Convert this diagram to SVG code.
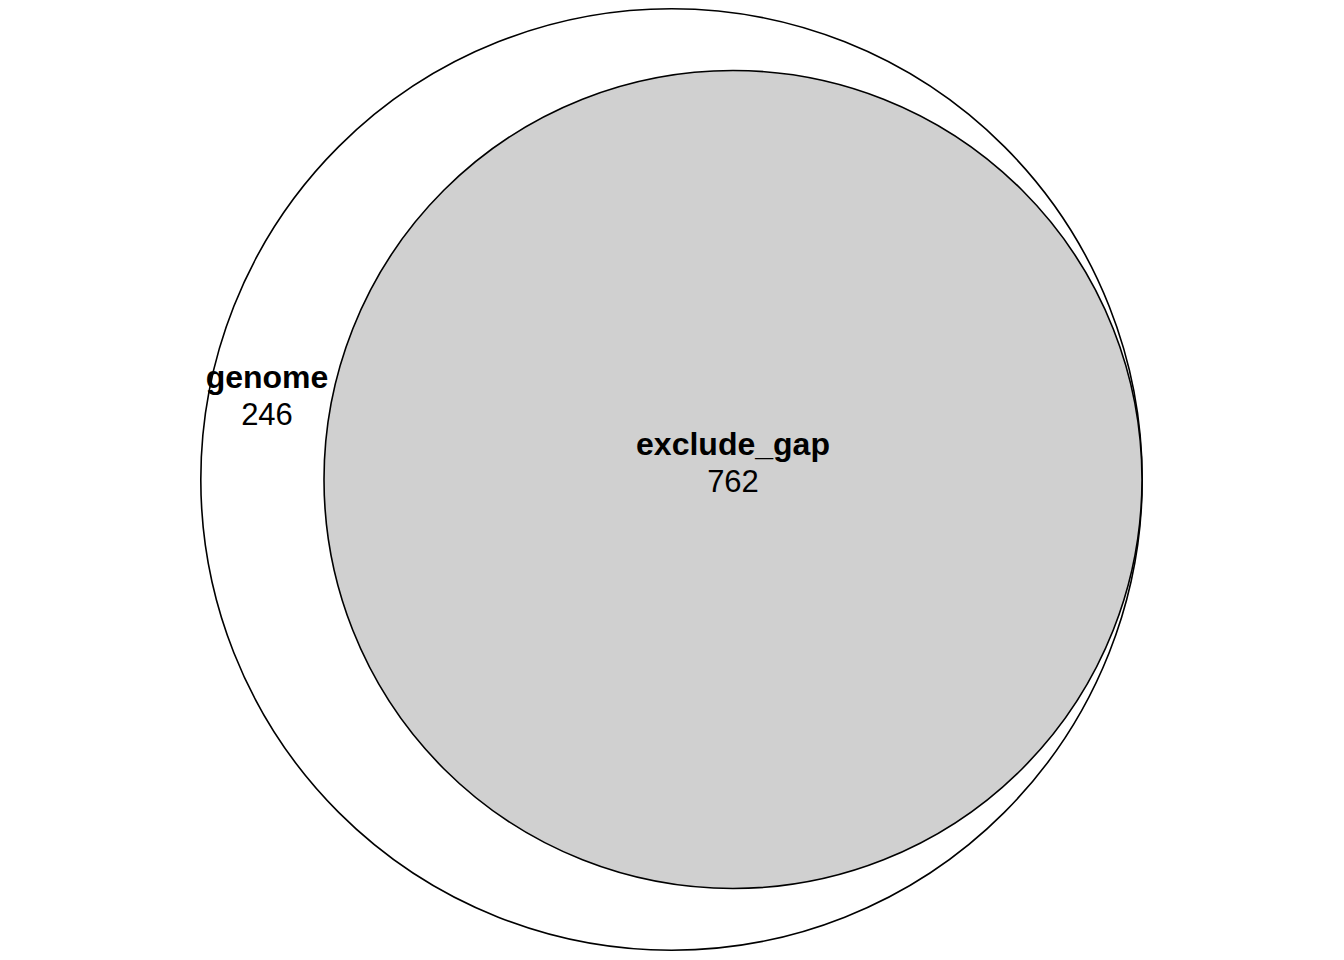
<svg xmlns="http://www.w3.org/2000/svg" width="1344" height="960" viewBox="0 0 1344 960">
<style>
.c{stroke:#000;stroke-width:1.6}
.t{font-family:"Liberation Sans",Arial,sans-serif;font-size:31px;text-anchor:middle;fill:#000}
.b{font-weight:bold;font-size:32px}
</style>
<rect width="1344" height="960" fill="#fff"/>
<g id="genome">
<circle class="c" cx="671.5" cy="479.5" r="470.7" fill="#fff"/>
<text class="t b" x="267" y="388">genome</text>
<text class="t" x="267" y="425">246</text>
</g>
<g id="exclude_gap">
<circle class="c" cx="733" cy="479.5" r="409" fill="#d0d0d0"/>
<text class="t b" x="733" y="455">exclude_gap</text>
<text class="t" x="733" y="492">762</text>
</g>
</svg>
